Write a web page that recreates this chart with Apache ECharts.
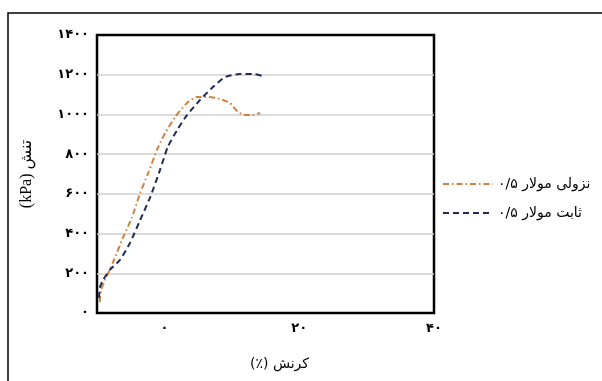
<!DOCTYPE html>
<html><head><meta charset="utf-8">
<script src="https://cdn.jsdelivr.net/npm/echarts@6/dist/echarts.min.js"></script>
<style>html,body{margin:0;padding:0;background:#fff}#c{width:602px;height:381px}</style>
</head><body><div id="c"></div>
<script>
// strain (%) and stress (kPa)
const descStrain = [-9.6,-9.4,-8.8,-7.6,-6.1,-4.8,-3.6,-2.4,-1.1,0.1,1.6,3.35,4.8,6.3,8.2,9.7,10.9,12.0,13.1,14.2];
const descStress = [55,116,166,257,383,483,604,705,821,906,987,1058,1088,1088,1078,1058,1012,997,997,1007];
const constStrain = [-9.7,-9.55,-9.1,-8.1,-6.6,-5.1,-3.6,-2.1,-0.65,0.5,1.9,3.35,5.3,7.2,9.0,11.2,13.1,14.5];
const constStress = [76,131,166,217,267,353,468,584,720,836,922,997,1073,1138,1188,1204,1204,1194];
const xTickLabels = [0,20,40];
// words listed in visual left-to-right order
const seriesNames = ['۰/۵ مولار نزولی','۰/۵ مولار ثابت'];
const yTitleWords = ['(kPa)','تنش'];
const xTitleWords = ['(٪)','کرنش'];

const fa = n => String(n).replace(/\d/g, d => '۰۱۲۳۴۵۶۷۸۹'[d]);
const zip = (a,b) => a.map((v,i)=>[v,b[i]]);
const FONT = "'DejaVu Sans', sans-serif";
// each word becomes its own rich token so words are placed left-to-right as listed
const visual = words => words.map(w => '{w|' + w + '}').join('{w| }');

const chart = echarts.init(document.getElementById('c'), null, {renderer:'canvas'});
chart.setOption({
  animation:false,
  backgroundColor:'#fff',
  graphic:[{type:'rect',shape:{x:8,y:13,width:700,height:500},style:{fill:'none',stroke:'#000',lineWidth:1.5},z:-1}],
  grid:{left:97,right:168,top:35,bottom:68,show:true,borderColor:'#000',borderWidth:2.5,backgroundColor:'transparent'},
  legend:{
    orient:'vertical',left:437,top:172,itemWidth:50,itemHeight:12,itemGap:15,
    itemStyle:{opacity:0,borderWidth:0},
    formatter:name => visual(name.split(' ')),
    textStyle:{fontFamily:FONT,fontSize:14,color:'#000',rich:{w:{fontFamily:FONT,fontSize:14,color:'#000'}}},
    data:seriesNames
  },
  xAxis:{
    type:'value',min:-10,max:40,interval:10,
    name:visual(xTitleWords),nameLocation:'middle',nameGap:44,
    nameTextStyle:{fontFamily:FONT,fontSize:14,color:'#000',padding:[0,0,0,28],
      rich:{w:{fontFamily:FONT,fontSize:14,color:'#000'}}},
    axisLine:{show:false},axisTick:{show:false},splitLine:{show:false},
    axisLabel:{margin:9,fontFamily:FONT,fontSize:13,color:'#000',fontWeight:'bold',
      formatter:v => xTickLabels.includes(v) ? fa(v) : ''}
  },
  yAxis:{
    type:'value',min:0,max:1400,interval:200,
    name:visual(yTitleWords),nameLocation:'middle',nameGap:62,nameRotate:90,
    nameTextStyle:{fontFamily:FONT,fontSize:15,color:'#000',
      rich:{w:{fontFamily:"'Liberation Serif','DejaVu Sans',serif",fontSize:16,color:'#000'}}},
    axisLine:{show:false},axisTick:{show:false},
    splitLine:{showMinLine:false,showMaxLine:false,lineStyle:{color:'#d0d0d0',width:1.5}},
    axisLabel:{margin:8,fontFamily:FONT,fontSize:13,color:'#000',fontWeight:'bold',formatter:v=>fa(v)}
  },
  series:[
    {name:seriesNames[0],type:'line',data:zip(descStrain,descStress),showSymbol:false,symbol:'none',smooth:0.2,
     lineStyle:{color:'#d0813f',width:2,type:[6,3,1.5,3]},itemStyle:{color:'#d0813f'}},
    {name:seriesNames[1],type:'line',data:zip(constStrain,constStress),showSymbol:false,symbol:'none',smooth:0.2,
     lineStyle:{color:'#1f2a55',width:2,type:[6,4]},itemStyle:{color:'#1f2a55'}}
  ]
});
</script></body></html>
